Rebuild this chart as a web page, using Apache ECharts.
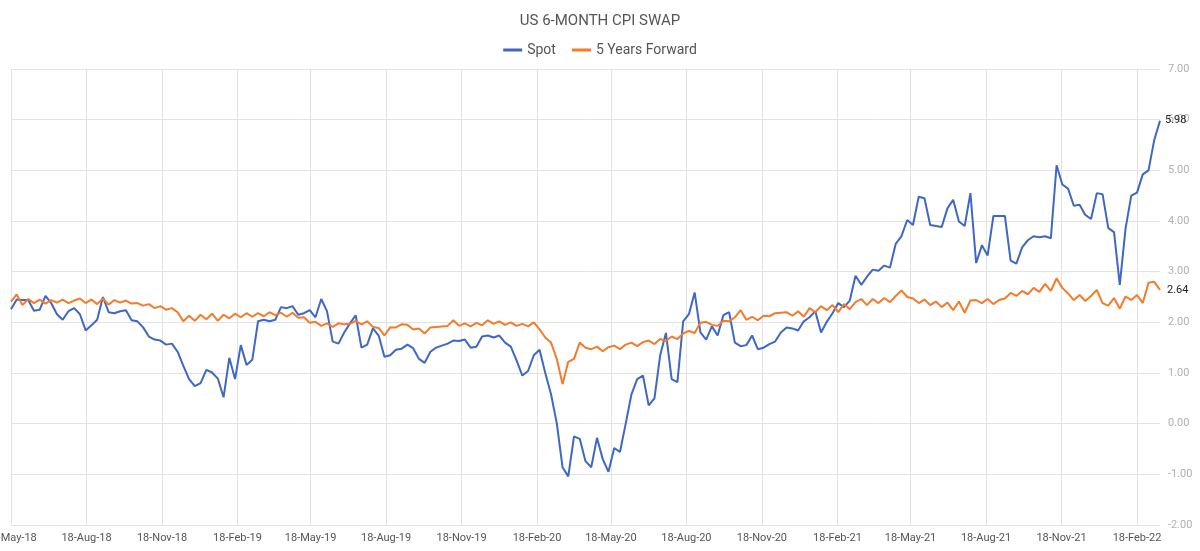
<!DOCTYPE html>
<html>
<head>
<meta charset="utf-8">
<script src="https://cdn.jsdelivr.net/npm/echarts@6/dist/echarts.min.js"></script>
<style>
html,body{margin:0;padding:0;background:#fff;}
#chart{width:1200px;height:551px;}
</style>
</head>
<body>
<div id="chart"></div>
<script>
// Weekly observations starting 18-May-2018
const startDate = [2018, 4, 18];
const stepDays = 7;

const spot = [
2.26,2.45,2.44,2.44,2.23,2.25,2.52,2.38,2.16,2.05,
2.22,2.28,2.16,1.84,1.94,2.05,2.50,2.20,2.18,2.22,
2.24,2.04,2.02,1.90,1.72,1.66,1.64,1.56,1.58,1.42,
1.14,0.88,0.74,0.80,1.06,1.01,0.89,0.52,1.30,0.88,
1.55,1.16,1.26,2.02,2.05,2.02,2.05,2.30,2.28,2.32,
2.15,2.18,2.24,2.10,2.46,2.22,1.62,1.58,1.80,1.98,
2.14,1.50,1.56,1.88,1.74,1.32,1.35,1.46,1.48,1.56,
1.49,1.28,1.20,1.42,1.50,1.54,1.58,1.64,1.63,1.66,
1.50,1.52,1.72,1.74,1.70,1.74,1.60,1.52,1.25,0.95,
1.04,1.35,1.46,1.00,0.58,0.01,-0.86,-1.04,-0.25,-0.30,
-0.74,-0.86,-0.28,-0.70,-0.95,-0.48,-0.56,0.00,0.58,0.88,
0.95,0.36,0.50,1.35,1.79,0.88,0.82,2.02,2.16,2.59,
1.80,1.66,1.92,1.74,2.14,2.20,1.60,1.53,1.55,1.74,
1.47,1.50,1.57,1.62,1.80,1.90,1.88,1.84,2.02,2.10,
2.22,1.80,2.01,2.18,2.38,2.30,2.43,2.92,2.74,2.90,
3.04,3.02,3.12,3.08,3.55,3.70,4.02,3.92,4.48,4.45,
3.92,3.90,3.88,4.25,4.42,3.99,3.90,4.55,3.17,3.52,
3.32,4.10,4.10,4.10,3.22,3.16,3.48,3.62,3.70,3.68,
3.70,3.66,5.10,4.72,4.64,4.30,4.32,4.12,4.04,4.55,
4.53,3.86,3.78,2.74,3.85,4.50,4.56,4.92,5.00,5.60,
5.98
];

const fwd5y = [
2.41,2.55,2.34,2.46,2.38,2.45,2.37,2.44,2.39,2.45,
2.38,2.43,2.47,2.38,2.45,2.36,2.47,2.35,2.44,2.39,
2.43,2.37,2.38,2.33,2.36,2.28,2.32,2.25,2.28,2.20,
2.02,2.13,2.03,2.15,2.06,2.17,2.03,2.15,2.08,2.17,
2.10,2.18,2.11,2.18,2.12,2.20,2.14,2.19,2.11,2.19,
2.09,2.10,1.99,2.01,1.93,1.98,1.91,1.98,1.96,1.97,
2.03,1.96,2.02,1.91,1.89,1.74,1.90,1.90,1.96,1.95,
1.86,1.88,1.78,1.90,1.91,1.92,1.93,2.04,1.93,1.98,
1.92,1.99,1.94,2.04,1.97,2.02,1.95,2.00,1.93,1.97,
1.92,2.00,1.86,1.70,1.60,1.28,0.78,1.22,1.28,1.60,
1.50,1.47,1.52,1.43,1.51,1.54,1.47,1.56,1.60,1.53,
1.61,1.64,1.57,1.67,1.63,1.72,1.67,1.78,1.83,1.79,
1.99,2.01,1.95,1.93,2.03,2.02,2.10,2.24,2.05,2.11,
2.04,2.13,2.12,2.18,2.19,2.20,2.13,2.22,2.11,2.28,
2.20,2.32,2.24,2.34,2.20,2.36,2.26,2.40,2.46,2.34,
2.46,2.38,2.48,2.40,2.52,2.63,2.50,2.47,2.38,2.45,
2.34,2.41,2.30,2.39,2.24,2.41,2.19,2.43,2.44,2.38,
2.46,2.36,2.44,2.47,2.58,2.52,2.62,2.55,2.68,2.60,
2.76,2.62,2.87,2.68,2.57,2.44,2.54,2.42,2.52,2.64,
2.38,2.33,2.48,2.27,2.51,2.44,2.54,2.38,2.78,2.80,
2.64
];

const seriesNames = ['Spot', '5 Years Forward'];
const seriesColors = ['#3f67c4', '#f27b2c'];
const tickMonths = ['2018-05','2018-08','2018-11','2019-02','2019-05','2019-08','2019-11','2020-02','2020-05','2020-08','2020-11','2021-02','2021-05','2021-08','2021-11','2022-02'];
const tickDay = 18;
const axisStart = [2018, 4, 18];
const axisEnd = [2022, 2, 18];

const dates = spot.map((_, i) => new Date(startDate[0], startDate[1], startDate[2] + stepDays * i).getTime());
const tickValues = tickMonths.map(s => { const p = s.split('-'); return new Date(+p[0], +p[1] - 1, tickDay).getTime(); });
const MON = ['Jan','Feb','Mar','Apr','May','Jun','Jul','Aug','Sep','Oct','Nov','Dec'];
function fmtDate(v) {
  const d = new Date(v);
  return d.getDate() + '-' + MON[d.getMonth()] + '-' + String(d.getFullYear()).slice(2);
}

const chart = echarts.init(document.getElementById('chart'), null, {renderer: 'canvas'});
const FONT = 'Roboto';
chart.setOption({
  animation: false,
  backgroundColor: '#ffffff',
  title: {
    text: 'US 6-MONTH CPI SWAP',
    left: 'center',
    top: 9,
    textStyle: {fontFamily: FONT, fontSize: 15, fontWeight: 'normal', color: '#555'}
  },
  legend: {
    top: 38,
    left: 'center',
    itemWidth: 19,
    itemHeight: 3,
    itemGap: 16,
    icon: 'rect',
    textStyle: {fontFamily: FONT, fontSize: 14, color: '#555'},
    data: seriesNames
  },
  grid: {left: 11, right: 40, top: 69, bottom: 26, containLabel: false, outerBoundsMode: 'none'},
  xAxis: {
    type: 'value',
    min: new Date(axisStart[0], axisStart[1], axisStart[2]).getTime(),
    max: new Date(axisEnd[0], axisEnd[1], axisEnd[2]).getTime(),
    axisLine: {show: false},
    axisTick: {show: false, customValues: tickValues},
    axisLabel: {
      customValues: tickValues,
      formatter: fmtDate,
      fontFamily: FONT, fontSize: 11, color: '#555', margin: 8,
      showMinLabel: true, showMaxLabel: true, hideOverlap: false
    },
    splitLine: {show: true, lineStyle: {color: '#e3e3e3', width: 1}}
  },
  yAxis: {
    type: 'value',
    position: 'right',
    min: -2, max: 7, interval: 1,
    axisLine: {show: false},
    axisTick: {show: false},
    axisLabel: {formatter: v => v.toFixed(2), fontFamily: FONT, fontSize: 11, color: '#b0b0b0', margin: 8},
    splitLine: {show: true, lineStyle: {color: '#e3e3e3', width: 1}}
  },
  series: [
    {
      name: seriesNames[0], type: 'line', showSymbol: false,
      data: spot.map((v, i) => [dates[i], v]),
      lineStyle: {width: 2, color: seriesColors[0]},
      itemStyle: {color: seriesColors[0]},
      endLabel: {show: true, formatter: p => p.value[1].toFixed(2), fontFamily: FONT, fontSize: 11, color: '#222', distance: 5}
    },
    {
      name: seriesNames[1], type: 'line', showSymbol: false,
      data: fwd5y.map((v, i) => [dates[i], v]),
      lineStyle: {width: 2, color: seriesColors[1]},
      itemStyle: {color: seriesColors[1]},
      endLabel: {show: true, formatter: p => p.value[1].toFixed(2), fontFamily: FONT, fontSize: 11, color: '#222', distance: 7}
    }
  ]
});
</script>
</body>
</html>
